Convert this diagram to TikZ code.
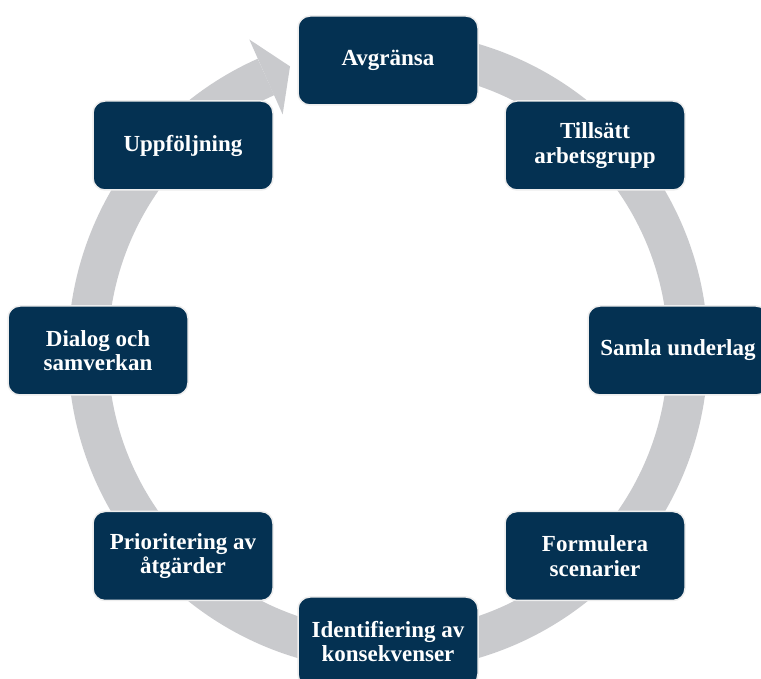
\documentclass[tikz,border=0pt]{standalone}
\usepackage{fontspec}
\setmainfont{Liberation Serif}
\definecolor{navy}{HTML}{043152}
\definecolor{ringgray}{HTML}{C9CACD}
\definecolor{edgegray}{HTML}{EEEEEE}
\begin{document}
\begin{tikzpicture}[x=1pt,y=1pt,
  stepbox/.style={rectangle, rounded corners=12pt, fill=navy, draw=edgegray, line width=1.5pt,
    minimum width=180pt, minimum height=89pt, align=center, text=white,
    font=\fontsize{23}{24.5}\selectfont\bfseries, inner sep=2pt}]
\clip (0,0) rectangle (761,678);
\fill[white] (0,0) rectangle (761,678);
\coordinate (c) at (388,327);
% ring
\draw[ringgray, line width=40pt] ([shift={(90:300)}]c) arc[start angle=90, end angle=-246, radius=300];
\fill[ringgray] ([shift={(114:259)}]c) -- ([shift={(114:341)}]c) -- ([shift={(109:301)}]c) -- cycle;
% boxes
\node[stepbox] (a) at (388,617.5) {Avgränsa};
\node[stepbox] (b) at (595,532.5) {Tillsätt\\arbetsgrupp};
\node[stepbox] (s) at (678,327.5) {Samla underlag};
\node[stepbox] (f) at (595,122) {Formulera\\scenarier};
\node[stepbox] (i) at (388,36.5) {Identifiering av\\konsekvenser};
\node[stepbox] (p) at (183,122) {Prioritering av\\åtgärder};
\node[stepbox] (d) at (98,327.5) {Dialog och\\samverkan};
\node[stepbox] (u) at (183,532.5) {Uppföljning};
\end{tikzpicture}
\end{document}
